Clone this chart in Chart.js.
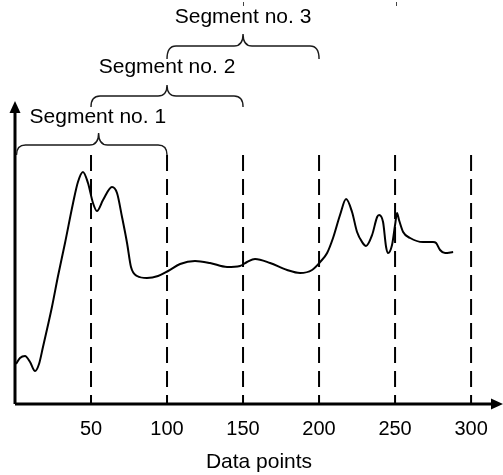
<!DOCTYPE html>
<html>
<head>
<meta charset="utf-8">
<script src="https://cdn.jsdelivr.net/npm/chart.js@4/dist/chart.umd.min.js"></script>
<style>
  html, body { margin: 0; padding: 0; background: #fff; }
  #wrap { width: 503px; height: 475px; }
</style>
</head>
<body>
<div id="wrap"><canvas id="c" width="503" height="475"></canvas></div>
<script>
// ---- data ----
const xTicks = [50, 100, 150, 200, 250, 300];
const dividerX = [50, 100, 150, 200, 250, 300];
const curveX = [0.7, 3.3, 6.6, 9.9, 13.2, 15.8, 18.4, 21.7, 24.3, 28.3, 32.9, 38.2, 41.4, 44.7, 48.0, 51.3, 53.9, 57.9, 63.8, 67.1, 70.4, 73.7, 76.3, 80.3, 86.8, 94.1, 100.7, 108.6, 118.4, 128.3, 139.5, 148, 152.6, 157.9, 167.8, 179, 187.5, 195.4, 200.7, 205.3, 209.2, 213.8, 217.8, 221.7, 225, 228.3, 230.9, 234.9, 238.2, 239.5, 242.1, 244.1, 245.4, 248, 250, 251.3, 252.6, 255.3, 259.9, 268.4, 275, 277, 279.6, 282.9, 288.2];
const curveY = [40, 46, 48, 42, 33, 40, 57, 79, 97, 128, 161, 201, 222, 232, 221, 201, 193, 204, 217, 211, 187, 161, 137, 128, 126, 128, 133, 140, 143, 141, 137, 138, 142, 145, 141, 134, 131, 134, 142, 151, 166, 189, 205, 192, 172, 162, 158, 169, 187, 189, 182, 157, 151, 159, 179, 191, 184, 172, 166, 162, 162, 161, 154, 151, 152];
const segmentLabels = ['Segment no. 1', 'Segment no. 2', 'Segment no. 3'];
const segmentStart = [1, 50, 100];
const segmentEnd = [100, 150, 200];
const segmentPeak = [55, 100, 150];
const xTitle = 'Data points';

const FONT = '"Liberation Sans", Arial, Helvetica, sans-serif';

const datasets = [{
  data: curveX.map((x, i) => ({ x: x, y: curveY[i] })),
  borderColor: '#000',
  borderWidth: 2,
  pointRadius: 0,
  fill: false,
  cubicInterpolationMode: 'monotone'
}];
dividerX.forEach(d => {
  datasets.push({
    data: [{ x: d, y: 249 }, { x: d, y: 0 }],
    borderColor: '#000',
    borderWidth: 2,
    borderDash: [16, 8],
    pointRadius: 0,
    fill: false
  });
});

function brace(ctx, xL, xR, xM, yL, drop, rise) {
  const r = 9;
  ctx.beginPath();
  ctx.moveTo(xL, yL + drop);
  ctx.quadraticCurveTo(xL, yL, xL + r, yL);
  ctx.lineTo(xM - r, yL);
  ctx.quadraticCurveTo(xM, yL, xM, yL - rise);
  ctx.quadraticCurveTo(xM, yL, xM + r, yL);
  ctx.lineTo(xR - r, yL);
  ctx.quadraticCurveTo(xR, yL, xR, yL + drop);
  ctx.stroke();
}

const decor = {
  id: 'decor',
  afterDraw(chart) {
    const ctx = chart.ctx;
    const xs = chart.scales.x, ys = chart.scales.y;
    const ca = chart.chartArea;
    const x0 = xs.getPixelForValue(0);
    const y0 = ys.getPixelForValue(0);
    ctx.save();
    ctx.strokeStyle = '#000';
    ctx.fillStyle = '#000';
    // axes
    ctx.lineWidth = 3;
    ctx.beginPath();
    ctx.moveTo(x0, y0);
    ctx.lineTo(ca.right - 10, y0);
    ctx.moveTo(x0, y0);
    ctx.lineTo(x0, ys.getPixelForValue(292));
    ctx.stroke();
    // arrow heads
    ctx.beginPath();
    ctx.moveTo(ca.right, y0);
    ctx.lineTo(ca.right - 12, y0 - 5.5);
    ctx.lineTo(ca.right - 12, y0 + 5.5);
    ctx.closePath();
    ctx.fill();
    const yt = ys.getPixelForValue(303);
    ctx.beginPath();
    ctx.moveTo(x0, yt);
    ctx.lineTo(x0 - 5.5, yt + 12);
    ctx.lineTo(x0 + 5.5, yt + 12);
    ctx.closePath();
    ctx.fill();
    // braces
    const levels = [259, 308, 358];
    const drops = [10, 11, 13];
    const rises = [12, 11, 12];
    ctx.lineWidth = 1.4;
    ctx.strokeStyle = '#1a1a1a';
    for (let i = 0; i < 3; i++) {
      brace(ctx,
        xs.getPixelForValue(segmentStart[i]),
        xs.getPixelForValue(segmentEnd[i]),
        xs.getPixelForValue(segmentPeak[i]),
        ys.getPixelForValue(levels[i]), drops[i], rises[i]);
    }
    // labels
    ctx.font = '21px ' + FONT;
    ctx.textAlign = 'center';
    ctx.textBaseline = 'alphabetic';
    ctx.fillStyle = '#000';
    const labelY = [281, 331, 381];
    const labelX = [54.5, 100, 150];
    for (let i = 0; i < 3; i++) {
      ctx.fillText(segmentLabels[i], xs.getPixelForValue(labelX[i]), ys.getPixelForValue(labelY[i]));
    }
    // small marks at top
    ctx.fillStyle = '#444';
    ctx.fillRect(Math.round(xs.getPixelForValue(150)), 2, 1, 4);
    ctx.fillRect(Math.round(xs.getPixelForValue(250)) + 1, 2, 1, 4);
    ctx.restore();
  }
};

new Chart(document.getElementById('c'), {
  type: 'line',
  data: { datasets: datasets },
  options: {
    responsive: false,
    animation: false,
    events: [],
    layout: { padding: { left: 15, right: 0, top: 0, bottom: 0 } },
    plugins: { legend: { display: false }, tooltip: { enabled: false } },
    scales: {
      x: {
        type: 'linear',
        min: 0,
        max: 321,
        grid: { display: false, drawTicks: false },
        border: { display: false },
        afterBuildTicks: s => { s.ticks = xTicks.map(v => ({ value: v })); },
        afterFit: s => { s.height = 71; },
        ticks: {
          color: '#000',
          padding: 13,
          maxRotation: 0,
          autoSkip: false,
          font: { family: FONT, size: 20 }
        },
        title: {
          display: true,
          text: xTitle,
          color: '#000',
          font: { family: FONT, size: 21 },
          padding: { top: 0, bottom: 0 }
        }
      },
      y: {
        display: false,
        min: 0,
        max: 404
      }
    }
  },
  plugins: [decor]
});
</script>
</body>
</html>
